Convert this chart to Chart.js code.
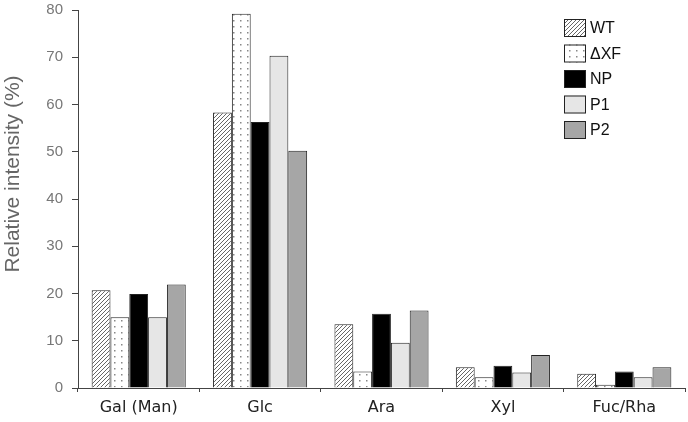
<!DOCTYPE html>
<html lang="en">
<head>
    <meta charset="UTF-8">
    <title>Relative intensity</title>
    <script src="https://cdn.jsdelivr.net/npm/chart.js"></script>
    <style>
        html, body { margin: 0; padding: 0; background: #fff; }
        .chart-container { position: relative; width: 688px; height: 422px; }
    </style>
</head>
<body>
    <div class="chart-container">
        <canvas id="sugarChart"></canvas>
    </div>

    <script>
        // data
        const categories = ['Gal (Man)', 'Glc', 'Ara', 'Xyl', 'Fuc/Rha'];
        const seriesNames = ['WT', '\u0394XF', 'NP', 'P1', 'P2'];
        const wt   = [20.7, 58.3, 13.5, 4.4, 3.0];
        const dxf  = [15.0, 79.2, 3.5, 2.3, 0.7];
        const np   = [19.9, 56.3, 15.7, 4.7, 3.5];
        const p1   = [15.0, 70.3, 9.6, 3.3, 2.3];
        const p2   = [21.9, 50.2, 16.4, 7.0, 4.4];
        const yTicks = [0, 10, 20, 30, 40, 50, 60, 70, 80];
        const yTitle = 'Relative intensity (%)';

        // fill patterns
        function hatchPattern() {
            const c = document.createElement('canvas');
            c.width = 4; c.height = 4;
            const g = c.getContext('2d');
            g.fillStyle = '#fff';
            g.fillRect(0, 0, 4, 4);
            g.strokeStyle = '#666';
            g.lineWidth = 1;
            g.beginPath();
            g.moveTo(-1, 5); g.lineTo(5, -1);
            g.moveTo(-1, 1); g.lineTo(1, -1);
            g.moveTo(3, 5); g.lineTo(5, 3);
            g.stroke();
            return g.createPattern(c, 'repeat');
        }
        function dotPattern() {
            const c = document.createElement('canvas');
            c.width = 7; c.height = 6;
            const g = c.getContext('2d');
            g.fillStyle = '#fff';
            g.fillRect(0, 0, 7, 6);
            g.fillStyle = '#888';
            g.fillRect(2, 2, 1.5, 1.5);
            return g.createPattern(c, 'repeat');
        }

        const fills = [hatchPattern(), dotPattern(), '#000', '#e6e6e6', '#a6a6a6'];
        const values = [wt, dxf, np, p1, p2];

        // legend drawn inside the plot, like the original
        const boxLegend = {
            id: 'boxLegend',
            afterDraw(chart) {
                const ctx = chart.ctx;
                ctx.save();
                chart.data.datasets.forEach((ds, i) => {
                    const x = 564, y = 19 + i * 25.5;
                    ctx.fillStyle = ds.backgroundColor;
                    ctx.fillRect(x, y, 22, 18);
                    ctx.strokeStyle = '#222';
                    ctx.lineWidth = 1;
                    ctx.strokeRect(x + 0.5, y + 0.5, 21, 17);
                    ctx.fillStyle = '#111';
                    ctx.font = '16px "Liberation Sans", Arial, sans-serif';
                    ctx.textBaseline = 'middle';
                    ctx.fillText(ds.label, x + 26, y + 10);
                });
                // y axis title, sits a bit above the middle in the original
                ctx.translate(13, 174);
                ctx.rotate(-Math.PI / 2);
                ctx.fillStyle = '#666';
                ctx.font = '21px "Liberation Sans", Arial, sans-serif';
                ctx.textAlign = 'center';
                ctx.textBaseline = 'middle';
                ctx.fillText(yTitle, 0, 0);
                ctx.restore();
            }
        };

        const ctx = document.getElementById('sugarChart').getContext('2d');
        const chart = new Chart(ctx, {
            type: 'bar',
            data: {
                labels: categories,
                datasets: seriesNames.map((name, i) => ({
                    label: name,
                    data: values[i],
                    backgroundColor: fills[i],
                    borderColor: '#222',
                    borderWidth: 1,
                    borderSkipped: 'bottom',
                    barPercentage: 1,
                    categoryPercentage: 0.775
                }))
            },
            options: {
                responsive: true,
                maintainAspectRatio: false,
                animation: false,
                layout: { padding: { top: 10, right: 3 } },
                plugins: {
                    legend: { display: false },
                    tooltip: { enabled: false }
                },
                scales: {
                    x: {
                        offset: true,
                        border: { color: '#444', width: 1 },
                        grid: {
                            offset: true,
                            drawOnChartArea: false,
                            drawTicks: true,
                            tickLength: 4,
                            color: '#444'
                        },
                        ticks: {
                            color: '#222',
                            padding: 6,
                            font: { family: '"DejaVu Sans", Verdana, sans-serif', size: 16 }
                        },
                        afterFit(scale) { scale.height = 34; }
                    },
                    y: {
                        min: 0,
                        max: 80,
                        border: { color: '#444', width: 1 },
                        grid: {
                            drawOnChartArea: false,
                            drawTicks: true,
                            tickLength: 6,
                            color: '#444'
                        },
                        afterBuildTicks(scale) {
                            scale.ticks = yTicks.map(v => ({ value: v }));
                        },
                        ticks: {
                            color: '#777',
                            padding: 9,
                            font: { family: '"Liberation Sans", Arial, sans-serif', size: 15 }
                        },
                        afterFit(scale) {
                            scale.width = 78;
                            scale.paddingTop = 0;
                            scale.paddingBottom = 0;
                        }
                    }
                }
            },
            plugins: [boxLegend]
        });
    </script>
</body>
</html>
